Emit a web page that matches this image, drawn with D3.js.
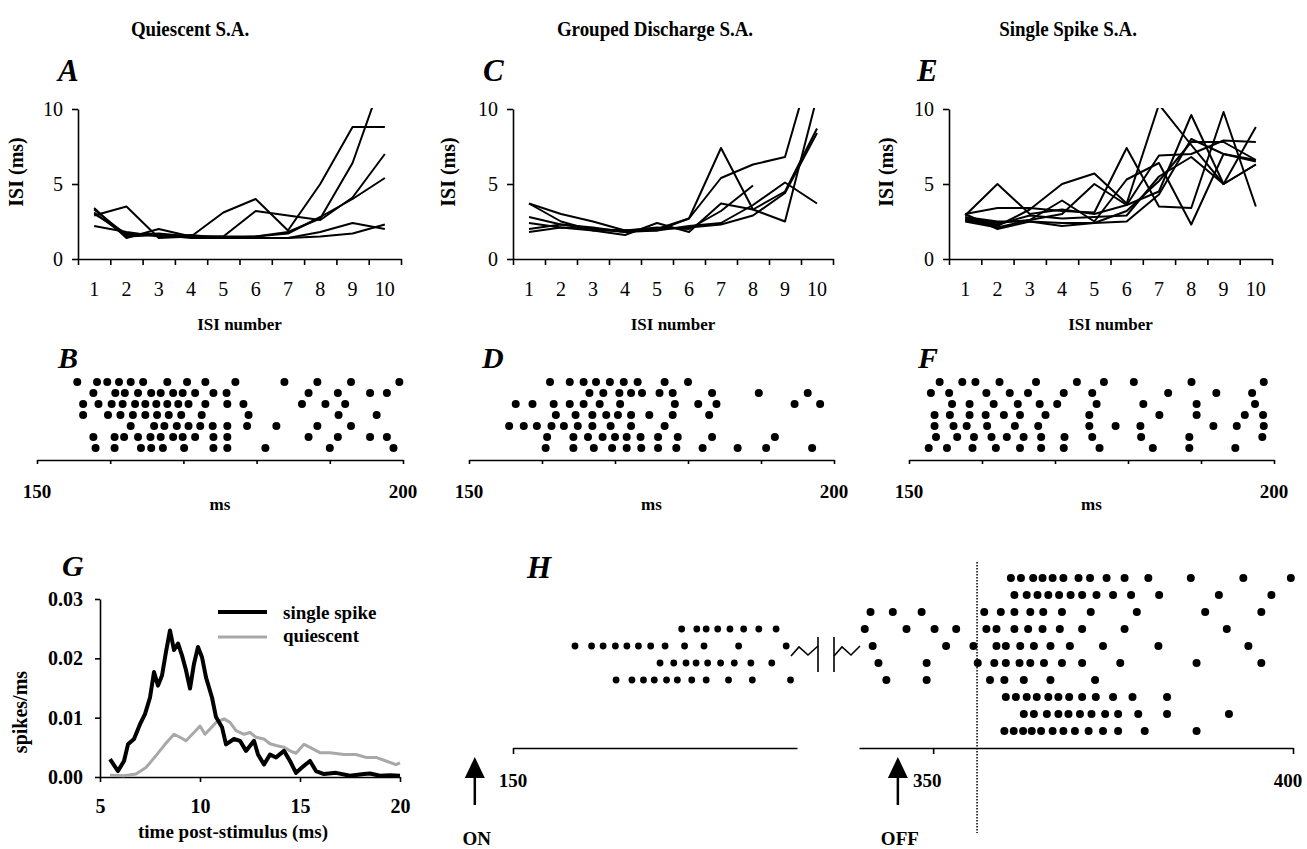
<!DOCTYPE html>
<html><head><meta charset="utf-8">
<script src="https://cdn.jsdelivr.net/npm/d3@7"></script>
<style>body{margin:0;background:#fff}svg{display:block}</style>
</head><body>
<svg id="c" width="1307" height="849"></svg>
<script>
// ---------- data ----------
const isiNumbers = [1,2,3,4,5,6,7,8,9,10];
const isiTicks = [0,5,10];
const quiescentISI = [
  [3.3,1.6,1.7,1.5,1.5,1.5,1.8,2.7,6.4,12.5],
  [3.1,1.5,1.6,1.5,3.1,4.0,1.9,5.0,8.8,8.8],
  [2.9,3.5,1.4,1.5,1.5,3.2,2.9,2.6,4.1,7.0],
  [3.4,1.4,2.0,1.5,1.4,1.5,1.7,2.8,4.0,5.4],
  [2.2,1.8,1.5,1.6,1.4,1.4,1.4,1.8,2.4,2.0],
  [3.0,1.7,1.6,1.4,1.4,1.4,1.4,1.5,1.7,2.3]
];
const groupedISI = [
  [2.8,2.3,2.0,1.8,2.0,2.7,5.4,6.3,6.8,14.2],
  [2.0,2.3,2.1,1.8,1.9,2.7,7.4,3.3,2.5,10.8],
  [3.7,2.5,1.9,1.6,2.4,1.8,3.7,3.3,4.5,8.7],
  [3.7,3.0,2.5,1.9,1.9,2.2,2.4,3.6,5.1,3.7],
  [2.4,2.1,1.9,1.9,2.1,2.0,3.2,4.9],
  [1.8,2.1,2.0,1.9,2.0,2.1,2.3,2.9,4.4,8.4]
];
const singleISI = [
  [2.9,5.0,3.0,3.3,3.0,3.6,4.5,9.6,5.0,6.3],
  [2.6,2.2,3.3,5.0,5.7,3.7,10.3,7.6,5.0,8.8],
  [3.0,3.4,3.4,3.2,3.1,7.4,3.5,3.4,9.8,3.5],
  [2.7,2.4,2.6,3.0,5.0,3.6,6.9,7.0,7.9,7.8],
  [2.5,2.1,2.6,3.9,2.5,5.3,6.4,2.3,7.0,6.6],
  [2.8,2.5,2.5,2.2,2.4,2.5,4.3,8.0,7.0,6.5],
  [2.6,2.3,2.9,2.7,2.8,2.9,5.5,6.8,5.0,6.3],
  [3.0,2.0,2.5,2.4,2.4,3.2,5.2,7.8,7.8,6.6]
];
const rasterTicks = [150,160,170,180,190,200];
const rasterB = [
  [155.5,158.2,159.6,161.2,162.8,164.5,167.8,170.5,173.0,177.1,183.8,188.3,192.9,199.5],
  [157.7,160.7,162.0,163.8,165.6,166.9,168.6,169.9,171.6,174.1,175.9,187.1,191.1,195.5,197.8],
  [156.3,158.4,160.2,161.7,163.4,164.8,166.3,167.8,169.3,170.7,173.0,176.0,178.2,186.2,189.4,192.1],
  [156.3,159.7,161.4,163.1,164.8,166.4,168.0,169.7,172.5,178.9,191.2,196.4],
  [162.8,166.0,167.4,169.1,170.7,172.3,174.0,176.0,178.7,182.7,188.3,192.9],
  [157.7,160.6,161.9,163.8,165.5,166.9,168.6,169.9,171.6,174.1,176.0,187.1,191.1,195.5,197.8],
  [158.0,160.6,164.2,165.6,167.2,170.1,174.1,176.0,181.2,190.0,198.7]
];
const rasterD = [
  [161.1,163.8,165.7,167.4,169.3,171.2,173.1,176.8,180.0],
  [166.5,168.4,170.6,172.2,173.7,176.1,177.9,183.3,189.7,196.4],
  [156.4,158.7,161.6,163.8,165.7,167.9,170.7,178.2,181.4,183.9,194.6,198.1],
  [161.9,164.6,166.9,168.8,170.4,172.2,174.7,177.9,182.9],
  [155.5,157.5,159.3,161.3,163.0,164.9,166.9,169.4,172.2,176.8],
  [160.7,164.3,166.3,168.3,170.0,171.6,173.5,175.9,178.6,183.3,191.9],
  [160.5,164.3,167.1,169.6,171.6,173.6,175.9,178.4,182.0,186.8,190.7,197.0]
];
const rasterF = [
  [154.2,157.3,159.1,162.4,167.4,173.0,176.7,180.8,188.7,198.6],
  [153.0,155.5,160.6,163.8,166.3,171.2,175.1,185.5,192.1,197.0],
  [155.9,158.3,161.6,164.9,167.9,170.3,175.7,182.1,189.4,197.4],
  [153.5,155.6,158.3,160.5,163.0,165.2,168.7,174.7,184.3,189.4,196.0,198.5],
  [153.5,156.1,157.9,160.7,164.5,167.7,174.7,178.3,181.7,191.7,194.9,198.6],
  [153.7,156.6,158.9,161.3,163.4,165.7,168.1,171.3,175.1,181.8,188.4,198.4],
  [152.7,155.2,158.7,161.9,165.2,168.1,171.2,176.1,183.4,188.4,194.7]
];
const psthTicksX = [5,10,15,20];
const psthTicksY = [0,0.01,0.02,0.03];
const singleSpikeT = [5.5,5.9,6.2,6.4,6.7,7.0,7.25,7.5,7.7,7.9,8.1,8.3,8.5,8.7,8.9,9.1,9.3,9.5,9.7,9.9,10.1,10.3,10.6,10.8,11.1,11.3,11.7,12.0,12.3,12.7,12.9,13.2,13.5,13.8,14.2,14.5,14.8,15.2,15.5,15.8,16.2,16.8,17.5,18.2,18.5,19.0,19.5,20.0];
const singleSpikeRate = [0.0030,0.0010,0.0027,0.0055,0.0064,0.0089,0.0106,0.0134,0.0177,0.0154,0.0171,0.0211,0.0247,0.0214,0.0225,0.0205,0.0180,0.0149,0.0191,0.0219,0.0202,0.0168,0.0134,0.0101,0.0084,0.0055,0.0064,0.0061,0.0044,0.0061,0.0038,0.0021,0.0038,0.0033,0.0044,0.0027,0.0007,0.0019,0.0027,0.0010,0.0005,0.0007,0.0002,0.0005,0.0006,0.0002,0.0003,0.0002];
const quiescentT = [5.5,6.2,6.8,7.3,7.8,8.25,8.7,9.0,9.3,9.7,10.0,10.25,10.5,10.8,11.2,11.5,11.8,12.2,12.5,12.8,13.2,13.5,13.8,14.2,14.5,14.8,15.2,15.5,16.0,16.5,17.2,17.8,18.3,18.8,19.3,19.8,20.0];
const quiescentRate = [0.0003,0.0002,0.0005,0.0016,0.0036,0.0055,0.0072,0.0067,0.0061,0.0075,0.0086,0.0072,0.0081,0.0092,0.0098,0.0092,0.0078,0.0072,0.0075,0.0067,0.0064,0.0056,0.0053,0.0050,0.0044,0.0040,0.0055,0.0050,0.0041,0.0041,0.0038,0.0038,0.0033,0.0033,0.0027,0.0021,0.0024];
const hLeftDomain = [150,189.4];
const hRightDomain = [339.7,400];
const hTicksLeft = [150];
const hTicksRight = [350,400];
const hOnMs = 144.7, hOffMs = 345.1, hDottedMs = 356.1;
const rasterH = [
  [360.8,362.2,363.9,365.2,366.6,368.1,370.2,371.8,374.1,376.6,379.9,385.8,393.1,399.7],
  [361.3,363.0,364.5,366.0,367.5,369.1,370.7,372.7,375.0,377.5,381.4,389.7,397.0],
  [341.3,344.4,348.4,357.1,359.4,361.3,363.5,365.3,367.9,371.9,378.3,387.8,395.6],
  [173.4,175.5,176.8,178.4,180.1,182.0,184.1,186.5,340.5,346.3,350.2,353.2,357.4,358.8,361.3,363.2,365.2,367.6,370.7,376.6,390.8],
  [158.6,160.9,162.5,164.2,165.8,167.4,169.1,171.1,173.8,176.5,181.3,187.9,341.6,351.8,355.6,358.8,360.1,362.1,364.0,366.3,369.0,373.6,381.3,393.8],
  [170.4,172.3,174.0,175.4,177.0,178.8,180.7,183.0,185.9,342.4,349.1,356.2,358.5,360.1,362.0,363.5,365.4,367.9,370.7,376.0,386.6,395.6],
  [164.3,166.5,168.1,169.6,171.3,172.8,174.8,176.8,179.9,183.2,188.5,343.5,349.1,357.9,359.9,362.6,366.3,372.5],
  [360.1,361.5,363.0,364.4,366.0,367.4,368.9,370.7,372.6,375.0,377.7,382.5],
  [362.6,364.0,365.8,367.4,368.8,370.4,372.0,373.9,375.7,378.5,382.5,391.1],
  [359.9,361.2,362.5,363.7,365.0,366.6,368.1,369.7,371.6,373.6,375.7,379.4,386.6]
];

// ---------- drawing ----------
const SERIF = "'Liberation Serif','Times New Roman',serif";
const svg = d3.select("#c");
svg.append("rect").attr("width",1307).attr("height",849).attr("fill","#fff");

function txt(x, y, s, o={}) {
  const t = svg.append("text").attr("x",x).attr("y",y).text(s)
    .attr("font-family",SERIF).attr("font-size",o.size||20)
    .attr("font-weight",o.bold===false?"normal":"bold")
    .attr("text-anchor",o.anchor||"middle").attr("fill","#000");
  if (o.italic) t.attr("font-style","italic");
  if (o.rotate) t.attr("transform",`rotate(-90,${x},${y})`);
  if (o.condense) {
    const w = t.node().getComputedTextLength();
    t.attr("textLength",w*o.condense).attr("lengthAdjust","spacingAndGlyphs");
  }
  return t;
}
function styleAxis(g, size, bold) {
  g.selectAll("path,line").attr("stroke","#000").attr("stroke-width",1.6);
  g.selectAll("text").attr("font-family",SERIF).attr("font-size",size)
    .attr("font-weight",bold?"bold":"normal").attr("fill","#000");
}

// titles
txt(190,36,"Quiescent S.A.",{size:22,condense:0.86});
txt(655,36,"Grouped Discharge S.A.",{size:22,condense:0.86});
txt(1068,36,"Single Spike S.A.",{size:22,condense:0.86});

// ISI panels
const isiPanels = [
  {data:quiescentISI, x0:78, x1:401, lab:"A", lx:58, yt:23},
  {data:groupedISI, x0:513, x1:833, lab:"C", lx:483, yt:455},
  {data:singleISI, x0:949, x1:1272, lab:"E", lx:917, yt:893}
];
isiPanels.forEach((p,pi)=>{
  const x = d3.scaleBand().domain(isiNumbers).range([p.x0,p.x1]);
  const xe = d3.scaleLinear().domain([0.5,10.5]).range([p.x0,p.x1]);
  const y = d3.scaleLinear().domain([0,10]).range([259,109]);
  const gx = svg.append("g").attr("transform","translate(0,259)")
    .call(d3.axisBottom(xe).tickValues(d3.range(0.5,11,1)).tickFormat("").tickSize(6).tickSizeOuter(0));
  styleAxis(gx,20,false);
  const gl = svg.append("g").attr("transform","translate(0,259)")
    .call(d3.axisBottom(x).tickSize(0).tickPadding(23));
  gl.select(".domain").remove();
  styleAxis(gl,20,false);
  const gy = svg.append("g").attr("transform",`translate(${p.x0},0)`)
    .call(d3.axisLeft(y).tickValues(isiTicks).tickSize(6).tickSizeOuter(0).tickPadding(9));
  styleAxis(gy,20,false);
  const cid = "clip"+pi;
  svg.append("clipPath").attr("id",cid).append("rect")
    .attr("x",p.x0).attr("y",108).attr("width",p.x1-p.x0+4).attr("height",152);
  const line = d3.line().x((d,i)=>x(isiNumbers[i])+x.bandwidth()/2).y(d=>y(d));
  svg.append("g").attr("clip-path",`url(#${cid})`).selectAll("path").data(p.data).join("path")
    .attr("d",line).attr("fill","none").attr("stroke","#000").attr("stroke-width",2)
    .attr("stroke-linejoin","round");
  txt(p.lx,81,p.lab,{size:31,italic:true,anchor:"start"});
  txt(p.yt,172,"ISI (ms)",{size:20,rotate:true});
  txt((p.x0+p.x1)/2,330,"ISI number",{size:17});
});

// raster panels B D F
const rasterPanels = [
  {data:rasterB, x0:37, x1:403, lab:"B", lx:58},
  {data:rasterD, x0:469, x1:834, lab:"D", lx:482},
  {data:rasterF, x0:909, x1:1274, lab:"F", lx:918}
];
rasterPanels.forEach(p=>{
  const x = d3.scaleLinear().domain([150,200]).range([p.x0,p.x1]);
  const rows = d3.scalePoint().domain(d3.range(7)).range([382,448]);
  const g = svg.append("g").attr("transform","translate(0,460)")
    .call(d3.axisBottom(x).tickValues(rasterTicks).tickFormat("").tickSize(4).tickSizeOuter(0));
  styleAxis(g,19,true);
  const pts = p.data.flatMap((r,i)=>r.map(v=>({t:v,row:i})));
  svg.append("g").selectAll("circle").data(pts).join("circle")
    .attr("cx",d=>x(d.t)).attr("cy",d=>rows(d.row)).attr("r",4).attr("fill","#000");
  txt(x(150),498,"150",{size:19});
  txt(x(200),498,"200",{size:19});
  txt((p.x0+p.x1)/2,510,"ms",{size:17});
  txt(p.lx,368,p.lab,{size:30,italic:true,anchor:"start"});
});

// panel G
{
  const x = d3.scaleLinear().domain([5,20]).range([100,400]);
  const y = d3.scaleLinear().domain([0,0.03]).range([777,599]);
  const gx = svg.append("g").attr("transform","translate(0,777)")
    .call(d3.axisBottom(x).tickValues(psthTicksX).tickSize(5).tickSizeOuter(0).tickPadding(17));
  styleAxis(gx,20,true);
  const gy = svg.append("g").attr("transform","translate(100,0)")
    .call(d3.axisLeft(y).tickValues(psthTicksY).tickFormat(d3.format(".2f")).tickSize(5).tickSizeOuter(0).tickPadding(12));
  styleAxis(gy,20,true);
  const line = d3.line().x(d=>x(d[0])).y(d=>y(d[1]));
  svg.append("path").datum(quiescentT.map((t,i)=>[t,quiescentRate[i]]))
    .attr("d",line).attr("fill","none").attr("stroke","#a8a8a8").attr("stroke-width",3).attr("stroke-linejoin","round");
  svg.append("path").datum(singleSpikeT.map((t,i)=>[t,singleSpikeRate[i]]))
    .attr("d",line).attr("fill","none").attr("stroke","#000").attr("stroke-width",4).attr("stroke-linejoin","round");
  svg.append("line").attr("x1",218).attr("x2",267).attr("y1",612).attr("y2",612).attr("stroke","#000").attr("stroke-width",4);
  svg.append("line").attr("x1",218).attr("x2",267).attr("y1",637).attr("y2",637).attr("stroke","#a8a8a8").attr("stroke-width",3);
  txt(283,619,"single spike",{size:19,anchor:"start"});
  txt(283,642,"quiescent",{size:19,anchor:"start"});
  txt(233,838,"time post-stimulus (ms)",{size:19});
  txt(27,712,"spikes/ms",{size:20,rotate:true});
  txt(62,576,"G",{size:30,italic:true,anchor:"start"});
}

// panel H
{
  const xl = d3.scaleLinear().domain(hLeftDomain).range([513,797]);
  const xr = d3.scaleLinear().domain(hRightDomain).range([859,1293]);
  const isLeft = t => t < 300;
  const xs = t => isLeft(t) ? xl(t) : xr(t);
  const rows = d3.scalePoint().domain(d3.range(10)).range([578,731]);
  const ay = 748;
  const gl = svg.append("g").attr("transform",`translate(0,${ay})`)
    .call(d3.axisBottom(xl).tickValues(hTicksLeft).tickFormat("").tickSize(6).tickSizeOuter(0));
  styleAxis(gl,19,true);
  const gr = svg.append("g").attr("transform",`translate(0,${ay})`)
    .call(d3.axisBottom(xr).tickValues(hTicksRight).tickFormat("").tickSize(6).tickSizeOuter(0));
  styleAxis(gr,19,true);
  txt(xl(150),787,"150",{size:19});
  txt(xr(350)-6,787,"350",{size:19});
  txt(xr(400)-5,787,"400",{size:19});
  // dotted line
  svg.append("line").attr("x1",xr(hDottedMs)).attr("x2",xr(hDottedMs)).attr("y1",562).attr("y2",833)
    .attr("stroke","#000").attr("stroke-width",1.5).attr("stroke-dasharray","1.5,1.5");
  const pts = rasterH.flatMap((r,i)=>r.map(v=>({t:v,row:i})));
  svg.append("g").selectAll("circle").data(pts).join("circle")
    .attr("cx",d=>xs(d.t)).attr("cy",d=>rows(d.row)).attr("r",d=>isLeft(d.t)?3.4:4).attr("fill","#000");
  // axis-break symbol
  const bL = xl(hLeftDomain[1]), bR = xr(hRightDomain[0]);
  const v1 = bL+21, v2 = bR-25;
  const bs = svg.append("g").attr("fill","none").attr("stroke","#000").attr("stroke-width",1.6);
  bs.append("path").attr("d",`M${bL-6},656 L${bL+2},647 L${bL+11},655 L${v1},646`);
  bs.append("path").attr("d",`M${v1},637 L${v1},672 M${v2},637 L${v2},672`);
  bs.append("path").attr("d",`M${v2},656 L${v2+8},647 L${v2+17},655 L${bR+1},646`);
  // arrows
  [[xl(hOnMs),"ON"],[xr(hOffMs),"OFF"]].forEach(([ax,lab])=>{
    svg.append("path").attr("d",`M${ax},757 L${ax-10},778 L${ax+10},778 Z`).attr("fill","#000");
    svg.append("line").attr("x1",ax).attr("x2",ax).attr("y1",776).attr("y2",805).attr("stroke","#000").attr("stroke-width",2.5);
    txt(ax+2,845,lab,{size:19});
  });
  txt(527,578,"H",{size:31,italic:true,anchor:"start"});
}
</script>
</body></html>
